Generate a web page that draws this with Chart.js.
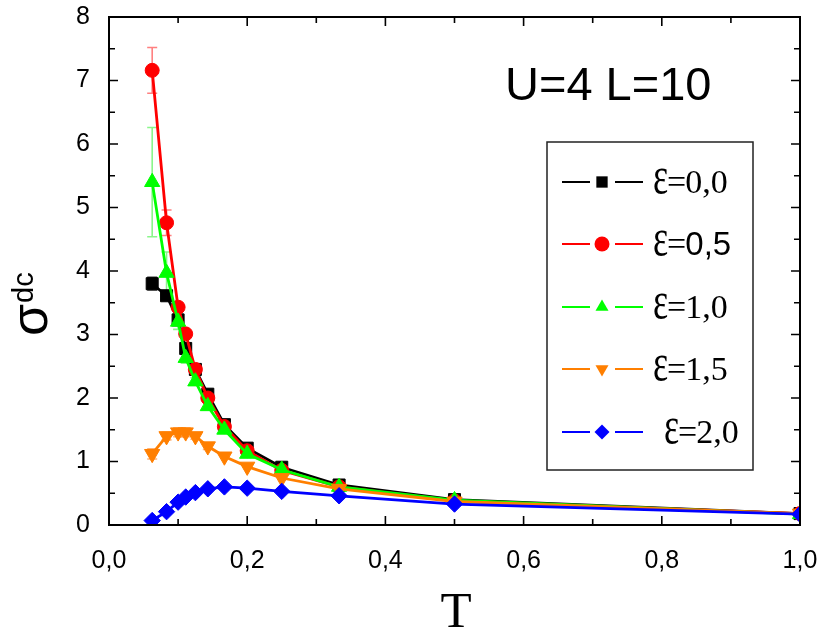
<!DOCTYPE html>
<html lang="pt-br">
<head>
<meta charset="UTF-8">
<title>sigma dc vs T</title>
<script src="https://cdn.jsdelivr.net/npm/chart.js"></script>
<style>
  html, body { margin: 0; padding: 0; background: #fff; overflow: hidden; }
  canvas { display: block; }
</style>
</head>
<body>
<canvas id="grafico" width="819" height="630"></canvas>

<script>
// temperaturas (T = 1/beta)
const temperaturas = [0.0625, 0.0833, 0.1, 0.111, 0.125, 0.143, 0.167, 0.2, 0.25, 0.333, 0.5, 1.0];

const eps00 = [3.80, 3.61, 3.23, 2.78, 2.45, 2.06, 1.58, 1.21, 0.91, 0.63, 0.40, 0.18];
const eps05 = [7.16, 4.76, 3.43, 3.01, 2.45, 2.00, 1.55, 1.17, 0.86, 0.60, 0.38, 0.18];
const eps10 = [5.40, 3.97, 3.20, 2.63, 2.26, 1.87, 1.50, 1.12, 0.87, 0.60, 0.39, 0.17];
const eps15 = [1.12, 1.40, 1.46, 1.46, 1.40, 1.24, 1.08, 0.92, 0.74, 0.57, 0.37, 0.18];
const eps20 = [0.07, 0.21, 0.36, 0.44, 0.51, 0.57, 0.60, 0.58, 0.53, 0.46, 0.33, 0.17];

// barras de erro
const err00 = [0.10, 0.06, 0.05, 0, 0, 0, 0, 0, 0, 0, 0, 0];
const err05 = [0.36, 0.20, 0.05, 0, 0, 0, 0, 0, 0, 0, 0, 0];
const err10 = [0.86, 0.33, 0.12, 0.08, 0.06, 0, 0, 0, 0, 0, 0, 0];
const err15 = [0.08, 0.06, 0.07, 0.07, 0.05, 0.05, 0, 0, 0, 0, 0, 0];
const err20 = [0, 0, 0, 0, 0, 0, 0, 0, 0, 0, 0, 0];

const rotulosEps = ['0,0', '0,5', '1,0', '1,5', '2,0'];
const ticksY = [0, 1, 2, 3, 4, 5, 6, 7, 8];
const ticksX = [0, 0.2, 0.4, 0.6, 0.8, 1.0];

const cores = ['#000000', '#ff0000', '#00ff00', '#ff7f00', '#0000ff'];
const coresErro = ['rgba(0,0,0,0.8)', 'rgba(255,60,60,0.65)', 'rgba(60,240,60,0.6)', 'rgba(255,130,30,0.6)', 'rgba(0,0,255,0.6)'];
const estilos = ['rect', 'circle', 'triangle', 'triangle', 'rectRot'];
const rotacoes = [0, 0, 0, 180, 0];
const raios = [8.5, 7, 8.8, 8.8, 8.2];

const series = [eps00, eps05, eps10, eps15, eps20];
const erros = [err00, err05, err10, err15, err20];

function pontos(valores) {
    return temperaturas.map((t, i) => ({ x: t, y: valores[i] }));
}

const datasets = series.map((s, k) => ({
    label: 'ε=' + rotulosEps[k],
    data: pontos(s),
    borderColor: cores[k],
    backgroundColor: cores[k],
    borderWidth: 2.8,
    pointStyle: estilos[k],
    pointRotation: rotacoes[k],
    pointRadius: raios[k],
    pointBorderWidth: 1,
    tension: 0,
    clip: 0,
    order: 4 - k
}));

// marcador pequeno para a legenda
function marcador(ctx, estilo, rot, r, x, y) {
    ctx.save();
    ctx.translate(x, y);
    ctx.rotate(rot * Math.PI / 180);
    ctx.beginPath();
    if (estilo === 'rect') {
        const s = r * Math.SQRT1_2;
        ctx.rect(-s, -s, 2 * s, 2 * s);
    } else if (estilo === 'circle') {
        ctx.arc(0, 0, r, 0, Math.PI * 2);
    } else if (estilo === 'triangle') {
        ctx.moveTo(0, -r);
        ctx.lineTo(r * 0.866, r * 0.5);
        ctx.lineTo(-r * 0.866, r * 0.5);
        ctx.closePath();
    } else {
        ctx.moveTo(0, -r);
        ctx.lineTo(r, 0);
        ctx.lineTo(0, r);
        ctx.lineTo(-r, 0);
        ctx.closePath();
    }
    ctx.fill();
    ctx.restore();
}

const barrasErro = {
    id: 'barrasErro',
    beforeDatasetsDraw(chart) {
        const ctx = chart.ctx;
        const xs = chart.scales.x, ys = chart.scales.y;
        ctx.save();
        ctx.lineWidth = 1.6;
        for (let k = series.length - 1; k >= 0; k--) {
            ctx.strokeStyle = coresErro[k];
            temperaturas.forEach((t, i) => {
                const e = erros[k][i];
                if (!e) return;
                const px = xs.getPixelForValue(t);
                const y1 = ys.getPixelForValue(series[k][i] + e);
                const y2 = ys.getPixelForValue(series[k][i] - e);
                ctx.beginPath();
                ctx.moveTo(px, y1); ctx.lineTo(px, y2);
                ctx.moveTo(px - 5, y1); ctx.lineTo(px + 5, y1);
                ctx.moveTo(px - 5, y2); ctx.lineTo(px + 5, y2);
                ctx.stroke();
            });
        }
        ctx.restore();
    }
};

const moldura = {
    id: 'moldura',
    afterDatasetsDraw(chart) {
        const ctx = chart.ctx;
        const a = chart.chartArea;
        const xs = chart.scales.x, ys = chart.scales.y;
        ctx.save();
        ctx.strokeStyle = '#000';
        ctx.lineWidth = 2;
        ctx.strokeRect(a.left, a.top, a.right - a.left, a.bottom - a.top);

        // ticks para dentro
        ctx.lineWidth = 1.6;
        ctx.beginPath();
        for (let v = 0; v <= 8.001; v += 0.5) {
            const py = ys.getPixelForValue(v);
            const len = Math.abs(v - Math.round(v)) < 0.01 ? 9 : 6;
            ctx.moveTo(a.left, py); ctx.lineTo(a.left + len, py);
            ctx.moveTo(a.right, py); ctx.lineTo(a.right - len, py);
        }
        for (let v = 0; v <= 1.0001; v += 0.1) {
            const px = xs.getPixelForValue(v);
            const major = Math.round(v * 10) % 2 === 0;
            const len = major ? 9 : 6;
            ctx.moveTo(px, a.bottom); ctx.lineTo(px, a.bottom - len);
            ctx.moveTo(px, a.top); ctx.lineTo(px, a.top + len);
        }
        ctx.stroke();

        // anotacao
        ctx.fillStyle = '#000';
        ctx.font = '47px "Liberation Sans", Arial, sans-serif';
        ctx.textBaseline = 'alphabetic';
        ctx.textAlign = 'left';
        ctx.fillText('U=4 L=10', 505, 100);

        // legenda
        const lx = 547, ly = 142, lw = 206, lh = 328;
        ctx.fillStyle = '#fff';
        ctx.fillRect(lx, ly, lw, lh);
        ctx.strokeStyle = '#222';
        ctx.lineWidth = 1.5;
        ctx.strokeRect(lx, ly, lw, lh);
        const yEntradas = [182, 244, 307, 369, 432];
        rotulosEps.forEach((rot, k) => {
            const yy = yEntradas[k];
            ctx.strokeStyle = cores[k];
            ctx.lineWidth = 2;
            ctx.beginPath();
            ctx.moveTo(562, yy); ctx.lineTo(590, yy);
            ctx.moveTo(615, yy); ctx.lineTo(643, yy);
            ctx.stroke();
            ctx.fillStyle = cores[k];
            marcador(ctx, estilos[k], rotacoes[k], k === 0 ? 8 : 7.5, 602, yy);

            ctx.fillStyle = '#000';
            const x0 = k === 4 ? 664 : 653;
            const base = yy + 11;
            ctx.save();
            ctx.translate(x0, base);
            ctx.scale(1, 1.45);
            ctx.font = '36px "Liberation Serif", "Times New Roman", serif';
            ctx.fillText('ε', 0, 0);
            const we = ctx.measureText('ε').width;
            ctx.restore();
            ctx.font = '34px "Liberation Serif", "Times New Roman", serif';
            ctx.fillText('=', x0 + we - 1, base);
            const wq = ctx.measureText('=').width;
            if (k === 1) ctx.font = '33px "Liberation Sans", Arial, sans-serif';
            ctx.fillText(rot, x0 + we + wq - 2, base);
        });

        // titulo eixo y
        ctx.save();
        ctx.translate(47, 336);
        ctx.rotate(-Math.PI / 2);
        ctx.fillStyle = '#000';
        ctx.font = '52px "Liberation Sans", Arial, sans-serif';
        ctx.fillText('σ', 0, 0);
        const ws = ctx.measureText('σ').width;
        ctx.font = '29px "Liberation Sans", Arial, sans-serif';
        ctx.fillText('dc', ws + 1, -14);
        ctx.restore();

        // titulo eixo x
        ctx.font = '51px "Liberation Serif", "Times New Roman", serif';
        ctx.textAlign = 'center';
        ctx.fillText('T', 456, 627);
        ctx.restore();
    }
};

new Chart(document.getElementById('grafico').getContext('2d'), {
    type: 'line',
    data: { datasets: datasets },
    options: {
        responsive: false,
        animation: false,
        devicePixelRatio: 1,
        layout: { padding: { top: 17, right: 19, left: 0, bottom: 0 } },
        plugins: {
            legend: { display: false },
            tooltip: { enabled: false }
        },
        scales: {
            x: {
                type: 'linear',
                min: 0,
                max: 1,
                afterFit: s => {
                    s.height = 105;
                    s.paddingLeft = 0; s.paddingRight = 0;
                    s.paddingTop = 0; s.paddingBottom = 0;
                },
                afterBuildTicks: s => { s.ticks = ticksX.map(v => ({ value: v })); },
                grid: { display: false },
                border: { display: false },
                ticks: {
                    padding: 13,
                    color: '#000',
                    font: { family: '"Liberation Sans", Arial, sans-serif', size: 25 },
                    callback: v => Number(v).toFixed(1).replace('.', ',')
                }
            },
            y: {
                type: 'linear',
                min: 0,
                max: 8,
                afterFit: s => {
                    s.width = 109;
                    s.paddingLeft = 0; s.paddingRight = 0;
                    s.paddingTop = 0; s.paddingBottom = 0;
                },
                afterBuildTicks: s => { s.ticks = ticksY.map(v => ({ value: v })); },
                grid: { display: false },
                border: { display: false },
                ticks: {
                    padding: 11,
                    color: '#000',
                    font: { family: '"Liberation Sans", Arial, sans-serif', size: 25 },
                    callback: v => String(v)
                }
            }
        }
    },
    plugins: [barrasErro, moldura]
});
</script>
</body>
</html>
